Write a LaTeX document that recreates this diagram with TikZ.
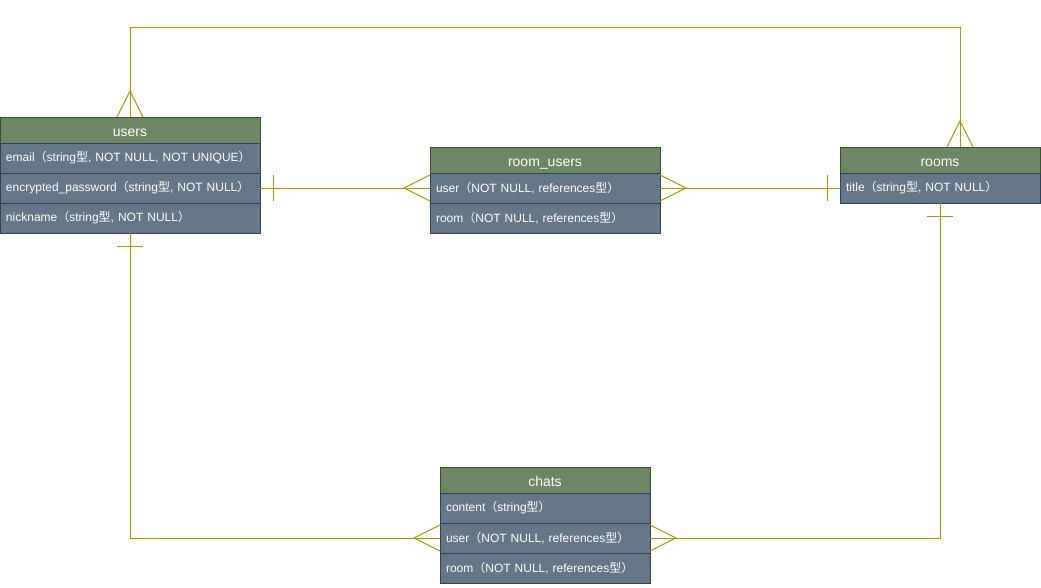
\documentclass[tikz,border=0pt]{standalone}
\usepackage{fontspec}
\setmainfont{Liberation Sans}
\newfontfamily\jpfont{Noto Sans CJK JP}
\newcommand{\zlp}{{\jpfont （}}
\newcommand{\zrp}{{\jpfont ）}}
\newcommand{\kata}{{\jpfont 型}}
\definecolor{headfill}{HTML}{6D8764}
\definecolor{headline}{HTML}{3A5431}
\definecolor{rowfill}{HTML}{647687}
\definecolor{rowline}{HTML}{314354}
\definecolor{relline}{HTML}{B09500}
\tikzset{
  headcell/.style={draw=headline, fill=headfill, text=white, font=\fontsize{10.5}{12}\selectfont, line width=0.75pt, minimum width=#1, minimum height=19.5pt, text height=9pt, text depth=0pt, inner sep=0pt, outer sep=0pt, anchor=north west},
  rowcell/.style={draw=rowline, fill=rowfill, text=white, font=\fontsize{9}{11}\selectfont, line width=0.75pt, text width=#1, align=left, inner xsep=4.5pt, inner ysep=0pt, outer sep=0pt, minimum height=22.5pt, anchor=north west},
  rel/.style={draw=relline, line width=0.75pt},
  manyend/.pic={\draw[rel] (0,-13) -- (26,0) -- (0,13);},
  oneend/.pic={\draw[rel] (13,-13) -- (13,13);}
}
\begin{document}
\begin{tikzpicture}[x=0.75pt, y=-0.75pt]
\useasboundingbox (0,0) rectangle (1041,587);
\node[headcell=195pt] (uh) at (0,117) {users};
\node[rowcell=186pt] (u1) at (uh.south west) {email\zlp string\kata, NOT NULL, NOT UNIQUE\zrp};
\node[rowcell=186pt] (u2) at (u1.south west) {encrypted\_password\zlp string\kata, NOT NULL\zrp};
\node[rowcell=186pt] (u3) at (u2.south west) {nickname\zlp string\kata, NOT NULL\zrp};
\node[headcell=172.5pt] (ruh) at (430,147) {room\_users};
\node[rowcell=163.5pt] (ru1) at (ruh.south west) {user\zlp NOT NULL, references\kata\zrp};
\node[rowcell=163.5pt] (ru2) at (ru1.south west) {room\zlp NOT NULL, references\kata\zrp};
\node[headcell=150pt] (rh) at (840,147) {rooms};
\node[rowcell=141pt] (r1) at (rh.south west) {title\zlp string\kata, NOT NULL\zrp};
\node[headcell=157.5pt] (ch) at (440,467) {chats};
\node[rowcell=148.5pt] (c1) at (ch.south west) {content\zlp string\kata\zrp};
\node[rowcell=148.5pt] (c2) at (c1.south west) {user\zlp NOT NULL, references\kata\zrp};
\node[rowcell=148.5pt] (c3) at (c2.south west) {room\zlp NOT NULL, references\kata\zrp};
\coordinate (rtop) at ([xshift=15pt]rh.north);
\draw[rel] (uh.north) -- ++(0,-90) -| (rtop);
\draw[rel] (u2.east) -- (ru1.west);
\draw[rel] (ru1.east) -- (r1.west);
\draw[rel] (u3.south) |- (c2.west);
\draw[rel] (r1.south) |- (c2.east);
\pic[rotate=90] at (uh.north) {manyend};
\pic[rotate=90] at (rtop) {manyend};
\pic[rotate=180] at (ru1.west) {manyend};
\pic at (ru1.east) {manyend};
\pic[rotate=180] at (c2.west) {manyend};
\pic at (c2.east) {manyend};
\pic at (u2.east) {oneend};
\pic[rotate=180] at (r1.west) {oneend};
\pic[rotate=-90] at (u3.south) {oneend};
\pic[rotate=-90] at (r1.south) {oneend};
\end{tikzpicture}
\end{document}
